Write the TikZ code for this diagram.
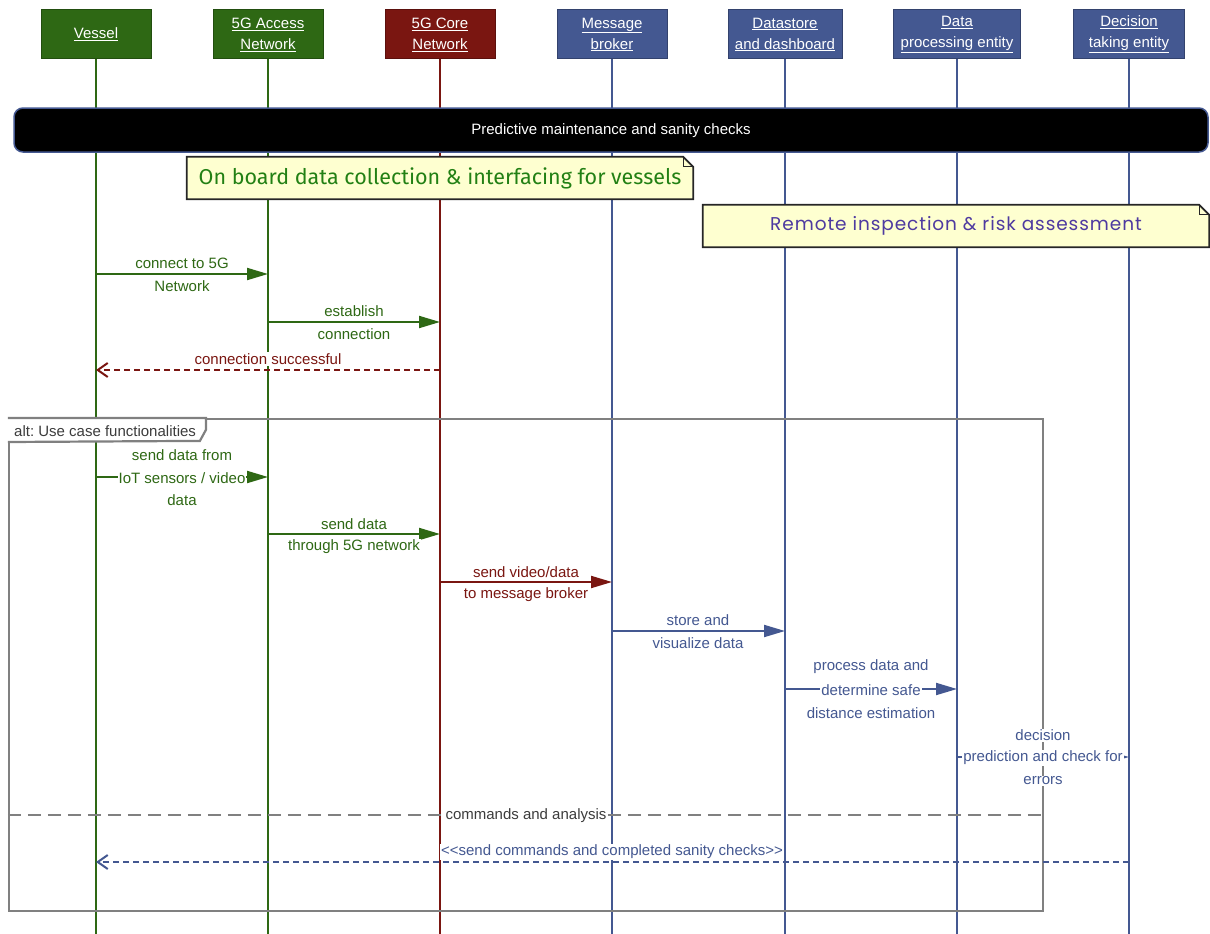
\documentclass[tikz,border=0pt]{standalone}
\usepackage{fontspec}
\setmainfont{Liberation Sans}
\newfontfamily\vesselnote{Fira Sans}
\newfontfamily\remotenote[LetterSpace=5]{Poppins}
\usetikzlibrary{arrows.meta}
\pgfdeclarelayer{lanes}
\pgfdeclarelayer{notes}
\pgfsetlayers{lanes,notes,main}

\definecolor{netgreen}{RGB}{46,104,20}
\definecolor{corered}{RGB}{122,22,17}
\definecolor{appblue}{RGB}{68,88,145}
\definecolor{notefill}{RGB}{254,255,208}
\definecolor{notegreen}{RGB}{34,128,20}
\definecolor{notepurple}{RGB}{78,58,160}
\definecolor{framegray}{RGB}{128,128,128}
\definecolor{textgray}{RGB}{60,60,60}

\begin{document}
\begin{tikzpicture}[x=1pt,y=-1pt,
  head/.style={fill=#1, draw=#1!75!black, line width=1pt, text=white,
    minimum height=49pt, inner sep=2pt, align=center,
    font=\fontsize{15}{21}\selectfont},
  life/.style={draw=#1, line width=2pt},
  msg/.style={draw=#1, line width=2pt, -{Triangle[length=21pt,width=12pt]}},
  reply/.style={draw=#1, line width=2pt, dash pattern=on 6pt off 4pt,
    -{Straight Barb[length=10pt,width=14pt]}},
  lbl/.style={text=#1, fill=white, inner sep=1pt,
    font=\fontsize{15}{17}\selectfont},
  notetext/.style={minimum width=506pt, minimum height=42pt, inner sep=0pt},
  notebg/.style={fill=notefill, draw=black!85, line width=1.8pt, line join=miter},
  framebox/.style={draw=framegray, line width=2.2pt},
]
\useasboundingbox (0,0) rectangle (1210,934);

% participants
\node[head=netgreen, minimum width=110pt] (vessel) at (96,34.5) {\underline{Vessel}};
\node[head=netgreen, minimum width=110pt] (access) at (268,34.5) {\underline{5G Access}\\\underline{Network}};
\node[head=corered, minimum width=110pt] (core) at (440,34.5) {\underline{5G Core}\\\underline{Network}};
\node[head=appblue, minimum width=110pt] (broker) at (612,34.5) {\underline{Message}\\\underline{broker}};
\node[head=appblue, minimum width=114pt] (store) at (785,34.5) {\underline{Datastore}\\\underline{and dashboard}};
\node[head=appblue, minimum width=127pt] (proc) at (957,34.5) {\underline{Data}\\\underline{processing entity}};
\node[head=appblue, minimum width=111pt] (decide) at (1129,34.5) {\underline{Decision}\\\underline{taking entity}};

% lifelines
\begin{pgfonlayer}{lanes}
  \draw[life=netgreen] (vessel.south) -- (vessel.south |- 0,934);
  \draw[life=netgreen] (access.south) -- (access.south |- 0,934);
  \draw[life=corered] (core.south) -- (core.south |- 0,934);
  \foreach \p in {broker,store,proc,decide}
    \draw[life=appblue] (\p.south) -- (\p.south |- 0,934);
\end{pgfonlayer}

% phase banner
\node[fill=black, draw=appblue, line width=1.5pt, rounded corners=9pt,
  minimum width=1194pt, minimum height=44pt] (phase) at (611,130) {};
\node[text=white, inner sep=0pt, font=\fontsize{15}{17}\selectfont]
  (phasetitle) at (611,131) {Predictive maintenance and sanity checks};

% notes with folded corner
\node[notetext, text=notegreen, font=\vesselnote\fontsize{21.5}{24}\selectfont]
  (collect) at (440,178) {On board data collection \& interfacing for vessels};
\node[notetext, text=notepurple, font=\remotenote\fontsize{18.5}{22}\selectfont]
  (remote) at (956,226) {Remote inspection \& risk assessment};
\begin{pgfonlayer}{notes}
  \foreach \n in {collect,remote} {
    \path[notebg] (\n.south west) -- (\n.north west) -- ([xshift=-10pt]\n.north east)
      -- ([yshift=-10pt]\n.north east) -- (\n.south east) -- cycle;
    \draw[black!85, line width=1.2pt] ([xshift=-10pt]\n.north east)
      -- ([xshift=-10pt,yshift=-10pt]\n.north east) -- ([yshift=-10pt]\n.north east);
  }
\end{pgfonlayer}

% connection set-up
\draw[msg=netgreen] (vessel |- 0,274) -- (access |- 0,274);
\node[lbl=netgreen] (l1a) at (182,263) {connect to 5G};
\node[lbl=netgreen] (l1b) at (182,286) {Network};

\draw[msg=netgreen] (access |- 0,322) -- (core |- 0,322);
\node[lbl=netgreen] (l2a) at (354,311) {establish};
\node[lbl=netgreen] (l2b) at (354,334) {connection};

\draw[reply=corered] (core |- 0,370) -- (vessel |- 0,370);
\node[lbl=corered] (l3) at (268,359) {connection successful};

% alternative fragment
\node[framebox, minimum width=1034pt, minimum height=492pt, inner sep=0pt]
  (alt) at (526,665) {};
\draw[framebox, fill=white] (alt.north west) -- ++(198,0) -- ++(0,12) -- ++(-6,11)
  -- (alt.north west |- 0,442);
\node[anchor=west, text=textgray, inner sep=0pt, font=\fontsize{15}{17}\selectfont]
  (altlabel) at (14,431) {alt:\ Use case functionalities};

\draw[msg=netgreen] (vessel |- 0,477) -- (access |- 0,477);
\node[lbl=netgreen] (l4a) at (182,455) {send data from};
\node[lbl=netgreen] (l4b) at (182,478) {IoT sensors / video};
\node[lbl=netgreen] (l4c) at (182,500) {data};

\draw[msg=netgreen] (access |- 0,534) -- (core |- 0,534);
\node[lbl=netgreen] (l5a) at (354,524) {send data};
\node[lbl=netgreen] (l5b) at (354,547) {through 5G network};

\draw[msg=corered] (core |- 0,582) -- (broker |- 0,582);
\node[lbl=corered] (l6a) at (526,572) {send video/data};
\node[lbl=corered] (l6b) at (526,595) {to message broker};

\draw[msg=appblue] (broker |- 0,631) -- (store |- 0,631);
\node[lbl=appblue] (l7a) at (698,620) {store and};
\node[lbl=appblue] (l7b) at (698,643) {visualize data};

\draw[msg=appblue] (store |- 0,689) -- (proc |- 0,689);
\node[lbl=appblue] (l8a) at (871,667) {process data and};
\node[lbl=appblue] (l8b) at (871,690) {determine safe};
\node[lbl=appblue] (l8c) at (871,713) {distance estimation};

\draw[msg=appblue] (proc |- 0,757) -- (decide |- 0,757);
\node[lbl=appblue] (l9a) at (1043,735) {decision};
\node[lbl=appblue] (l9b) at (1043,758) {prediction and check for};
\node[lbl=appblue] (l9c) at (1043,781) {errors};

% operand separator
\draw[draw=framegray, line width=2.5pt, dash pattern=on 13pt off 7pt]
  (alt.west |- 0,815) -- (alt.east |- 0,815);
\node[lbl=textgray] (sep) at (526,816) {commands and analysis};

\draw[reply=appblue] (decide |- 0,862) -- (vessel |- 0,862);
\node[lbl=appblue] (l10) at (612,852) {<{}<send commands and completed sanity checks>{}>};

\end{tikzpicture}
\end{document}
